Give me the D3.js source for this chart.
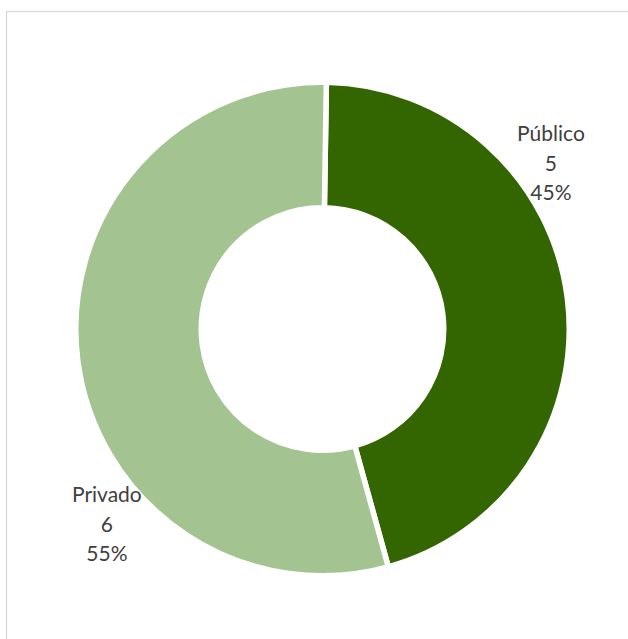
<!DOCTYPE html>
<html>
<head>
<meta charset="utf-8">
<script src="https://cdn.jsdelivr.net/npm/d3@7"></script>
<style>
  html, body { margin: 0; padding: 0; background: #ffffff; }
  svg { display: block; }
</style>
</head>
<body>
<svg id="chart" width="628" height="639"></svg>
<script>
// Sector split: público vs privado
const categories = ["Público", "Privado"];
const counts = [5, 6];
const percentLabels = ["45%", "55%"];
const sliceColors = ["#336600", "#A3C490"];

const svg = d3.select("#chart");
const W = 628, H = 639;

// chart area frame (only top and left edges fall inside the view)
svg.append("rect")
  .attr("x", 6.5).attr("y", 11.5)
  .attr("width", W + 20).attr("height", H + 20)
  .attr("fill", "#ffffff")
  .attr("stroke", "#d9d9d9")
  .attr("stroke-width", 1.3);

const cx = 322.5, cy = 329;
const gap = 5.5;
const outerR = 244 + gap / 2;
const innerR = 124 - gap / 2;
const startRot = 0.9 * Math.PI / 180;

const pie = d3.pie()
  .value(d => d)
  .sort(null)
  .startAngle(startRot)
  .endAngle(startRot + 2 * Math.PI);

const arcs = pie(counts);
const arcGen = d3.arc().innerRadius(innerR).outerRadius(outerR);

const g = svg.append("g").attr("transform", `translate(${cx},${cy})`);

g.selectAll("path.slice")
  .data(arcs)
  .join("path")
  .attr("class", "slice")
  .attr("d", arcGen)
  .attr("fill", (d, i) => sliceColors[i])
  .attr("stroke", "#ffffff")
  .attr("stroke-width", gap)
  .attr("stroke-linejoin", "miter");

// data labels: placed outside the ring at a chosen polar position per slice
const labelPolar = [
  { angle: 54.3, radius: 281.3 },
  { angle: 227.6, radius: 292 }
];
const lineH = 29.5;

arcs.forEach((a, i) => {
  const p = labelPolar[i];
  const rad = p.angle * Math.PI / 180;
  const x = Math.sin(rad) * p.radius;
  const y = -Math.cos(rad) * p.radius;
  const t = g.append("text")
    .attr("x", x)
    .attr("y", y)
    .attr("text-anchor", "middle")
    .attr("font-family", "Lato, 'Open Sans', sans-serif")
    .attr("font-size", 21)
    .attr("fill", "#404040");
  const lines = [categories[i], String(a.data), percentLabels[i]];
  lines.forEach((s, k) => {
    t.append("tspan")
      .attr("x", x)
      .attr("y", y + (k - 1) * lineH + 6)
      .text(s);
  });
});
</script>
</body>
</html>
